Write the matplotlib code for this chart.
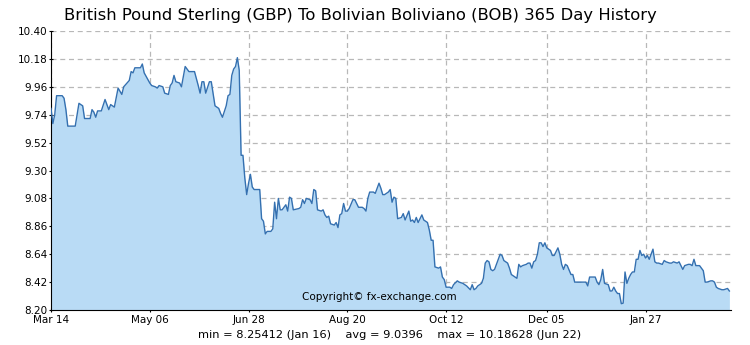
import matplotlib
matplotlib.use('Agg')
import matplotlib.pyplot as plt

# days after Mar 14
days = [0, 1, 2, 3, 6, 7, 8, 9, 11, 13, 15, 17, 18, 21, 22, 23, 24, 25, 27, 29,
        31, 32, 34, 36, 38, 39, 42, 43, 44, 45, 48, 49, 50, 53, 54, 56, 57, 58, 60, 61,
        63, 64, 65, 66, 67, 69, 70, 72, 74, 77, 79, 80, 81, 82, 83, 85, 86, 88, 90, 91,
        92, 94, 95, 96, 97, 98, 99, 100, 101, 102, 103, 104, 105, 106, 107, 108, 109, 111, 112, 113,
        114, 115, 116, 118, 119, 120, 121, 122, 123, 124, 126, 127, 128, 129, 130, 133, 134, 135, 136, 137,
        139, 140, 141, 142, 143, 145, 146, 147, 148, 149, 150, 152, 153, 154, 155, 156, 157, 158, 159, 160,
        162, 163, 165, 167, 168, 169, 170, 171, 173, 174, 176, 177, 178, 179, 181, 182, 183, 184, 185, 186,
        188, 189, 190, 192, 193, 194, 195, 196, 197, 199, 200, 202, 203, 204, 205, 206, 208, 209, 210, 211,
        212, 214, 215, 216, 218, 219, 221, 222, 223, 225, 226, 227, 228, 229, 231, 232, 233, 234, 235, 236,
        237, 238, 240, 241, 242, 243, 245, 246, 247, 249, 250, 251, 252, 253, 255, 256, 257, 258, 259, 260,
        261, 262, 263, 264, 265, 266, 268, 269, 270, 272, 273, 274, 275, 276, 277, 279, 280, 281, 283, 285,
        286, 287, 288, 289, 290, 292, 293, 294, 295, 296, 297, 299, 300, 301, 302, 303, 304, 305, 306, 307,
        308, 309, 310, 311, 312, 313, 314, 315, 316, 317, 318, 319, 320, 321, 322, 323, 324, 325, 326, 328,
        329, 330, 332, 333, 334, 336, 337, 338, 339, 340, 342, 343, 344, 345, 346, 348, 349, 350, 351, 352,
        354, 355, 356, 357, 358, 360, 361, 363, 364]
rates = [9.79, 9.67, 9.74, 9.89, 9.89, 9.87, 9.78, 9.65, 9.65, 9.65, 9.83, 9.81, 9.71, 9.71, 9.78, 9.76, 9.72, 9.77, 9.77, 9.86,
         9.78, 9.82, 9.80, 9.95, 9.90, 9.96, 10.01, 10.08, 10.07, 10.11, 10.11, 10.14, 10.07, 9.99, 9.97, 9.96, 9.95, 9.97, 9.96, 9.91,
         9.90, 9.97, 9.99, 10.05, 10.00, 9.99, 9.96, 10.12, 10.08, 10.08, 9.97, 9.91, 10.00, 10.00, 9.91, 10.00, 10.00, 9.81, 9.79, 9.75,
         9.72, 9.81, 9.89, 9.90, 10.05, 10.10, 10.12, 10.19, 10.09, 9.42, 9.42, 9.24, 9.11, 9.20, 9.27, 9.17, 9.15, 9.15, 9.15, 8.92,
         8.90, 8.80, 8.82, 8.82, 8.84, 9.05, 8.92, 9.08, 8.99, 8.99, 9.03, 8.98, 9.09, 9.08, 8.99, 9.00, 9.01, 9.07, 9.04, 9.08,
         9.07, 9.04, 9.15, 9.14, 8.99, 8.98, 8.99, 8.95, 8.93, 8.94, 8.88, 8.87, 8.89, 8.85, 8.95, 8.96, 9.04, 8.98, 8.98, 9.00,
         9.07, 9.07, 9.01, 9.01, 9.00, 8.98, 9.08, 9.13, 9.13, 9.12, 9.20, 9.16, 9.11, 9.11, 9.13, 9.15, 9.05, 9.09, 9.08, 8.92,
         8.93, 8.96, 8.91, 8.98, 8.90, 8.91, 8.89, 8.93, 8.89, 8.95, 8.91, 8.89, 8.83, 8.75, 8.75, 8.54, 8.53, 8.54, 8.46, 8.44,
         8.38, 8.38, 8.37, 8.40, 8.43, 8.42, 8.41, 8.40, 8.39, 8.36, 8.40, 8.36, 8.37, 8.39, 8.41, 8.45, 8.57, 8.59, 8.58, 8.52,
         8.51, 8.52, 8.60, 8.64, 8.63, 8.59, 8.57, 8.53, 8.48, 8.46, 8.45, 8.56, 8.54, 8.55, 8.56, 8.57, 8.57, 8.53, 8.58, 8.59,
         8.64, 8.73, 8.73, 8.70, 8.73, 8.69, 8.67, 8.63, 8.63, 8.69, 8.64, 8.56, 8.52, 8.56, 8.55, 8.48, 8.48, 8.42, 8.42, 8.42,
         8.42, 8.42, 8.39, 8.46, 8.46, 8.46, 8.42, 8.40, 8.44, 8.52, 8.41, 8.40, 8.35, 8.35, 8.38, 8.35, 8.33, 8.33, 8.25, 8.254,
         8.50, 8.41, 8.45, 8.48, 8.50, 8.50, 8.60, 8.60, 8.67, 8.63, 8.64, 8.61, 8.63, 8.60, 8.64, 8.68, 8.58, 8.57, 8.57, 8.56,
         8.59, 8.58, 8.57, 8.57, 8.58, 8.57, 8.58, 8.55, 8.52, 8.55, 8.56, 8.56, 8.55, 8.60, 8.55, 8.55, 8.53, 8.51, 8.42, 8.42,
         8.43, 8.43, 8.42, 8.38, 8.37, 8.36, 8.36, 8.37, 8.35]

tick_days = [0, 53, 106, 159, 212, 266, 319]
tick_labels = ['Mar 14', 'May 06', 'Jun 28', 'Aug 20', 'Oct 12', 'Dec 05', 'Jan 27']
y_ticks = [8.20, 8.42, 8.64, 8.86, 9.08, 9.30, 9.52, 9.74, 9.96, 10.18, 10.40]

fig = plt.figure(figsize=(7.5, 3.45), dpi=100)
ax = fig.add_axes([0.068, 0.1014, 0.907, 0.8087])

ax.fill_between(days, rates, 8.20, color='#b9dbf5', lw=0, zorder=2)
ax.plot(days, rates, color='#3470b0', lw=1.0, zorder=3)

ax.set_xlim(0, 365)
ax.set_ylim(8.20, 10.40)
ax.set_xticks(tick_days)
ax.set_xticklabels(tick_labels)
ax.set_yticks(y_ticks)
ax.set_yticklabels(['%.2f' % v for v in y_ticks])
ax.tick_params(labelsize=7.5, length=3, direction='inout')
ax.tick_params(axis='y', pad=1)
ax.tick_params(axis='x', pad=2)
ax.set_axisbelow(True)
ax.grid(True, color='#b8b8b8', linestyle=(0, (4, 3)), lw=0.9, zorder=1)
for side in ['top', 'right']:
    ax.spines[side].set_visible(False)

ax.text(0.482, 0.045, 'Copyright\u00a9 fx-exchange.com', transform=ax.transAxes,
        ha='center', va='center', fontsize=7.5, zorder=4)
fig.text(0.48, 0.955, 'British Pound Sterling (GBP) To Bolivian Boliviano (BOB) 365 Day History',
         ha='center', va='center', fontsize=11.8)
fig.text(0.519, 0.03, 'min = 8.25412 (Jan 16)    avg = 9.0396    max = 10.18628 (Jun 22)',
         ha='center', va='center', fontsize=8.2)

fig.savefig('out.png', dpi=100)
